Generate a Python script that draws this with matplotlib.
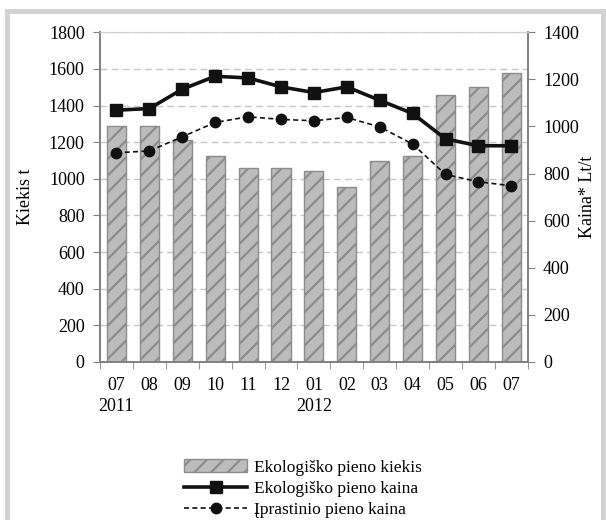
import numpy as np
import matplotlib
matplotlib.use('Agg')
import matplotlib.pyplot as plt
from matplotlib.patches import Rectangle

plt.rcParams['font.family'] = ['Liberation Serif', 'DejaVu Serif']
plt.rcParams['hatch.linewidth'] = 1.6

# Months July 2011 - July 2012
months = ['07\n2011', '08', '09', '10', '11', '12', '01\n2012', '02', '03', '04', '05', '06', '07']

# Organic milk quantity, t (left axis)
eko_kiekis = [1290, 1290, 1210, 1125, 1060, 1060, 1042, 955, 1098, 1125, 1455, 1502, 1580]

# Organic milk price, Lt/t (right axis)
eko_kaina = [1069, 1076, 1158, 1213, 1206, 1168, 1144, 1168, 1111, 1055, 947, 918, 918]

# Conventional milk price, Lt/t (right axis)
iprast_kaina = [888, 896, 956, 1017, 1041, 1030, 1024, 1038, 998, 925, 796, 765, 748]

fig = plt.figure(figsize=(6.06, 5.2), dpi=100)
ax = fig.add_axes([0.165, 0.304, 0.706, 0.634])
ax2 = ax.twinx()

x = np.arange(len(months))
bars = ax.bar(x, eko_kiekis, width=0.58, color='#bcbcbc', edgecolor='#8c8c8c',
              linewidth=1.0, hatch='//', label='Ekologiško pieno kiekis', zorder=2)

l1, = ax2.plot(x, eko_kaina, '-', color='#111111', lw=2.6, marker='s', markersize=8.5,
               label='Ekologiško pieno kaina', zorder=3)
l2, = ax2.plot(x, iprast_kaina, '--', color='#111111', lw=1.2, marker='o', markersize=7.5,
               dashes=(3, 2), label='Įprastinio pieno kaina', zorder=3)

ax.set_xlim(-0.5, len(months) - 0.5)
ax.set_ylim(0, 1800)
ax.set_yticks(np.arange(0, 1801, 200))
ax2.set_ylim(0, 1400)
ax2.set_yticks(np.arange(0, 1401, 200))

ax.set_xticks(x)
ax.set_xticklabels(months, fontsize=13, linespacing=1.3)
ax.set_xticks(np.arange(-0.5, len(months)), minor=True)
ax.tick_params(axis='x', which='major', length=0, pad=11)
ax.tick_params(axis='x', which='minor', length=5, color='#808080', direction='out')
ax.tick_params(axis='y', length=5, color='#808080', labelsize=13, pad=6)
ax2.tick_params(axis='y', length=5, color='#808080', labelsize=13, pad=6)

ax.yaxis.grid(True, linestyle=(0, (5, 3)), color='#c8c8c8', lw=1.0)
ax.set_axisbelow(True)

for a in (ax, ax2):
    for side in ('left', 'right', 'bottom'):
        a.spines[side].set_color('#808080')
        a.spines[side].set_linewidth(1.2)
    a.spines['top'].set_color('#d0d0d0')

ax.set_ylabel('Kiekis t', fontsize=13, labelpad=11)
ax2.set_ylabel('Kaina* Lt/t', fontsize=13, labelpad=0)

fig.legend(handles=[bars, l1, l2], loc='center', bbox_to_anchor=(0.5, 0.06),
           frameon=False, fontsize=12.5, handlelength=3.6, handletextpad=0.4,
           labelspacing=0.3, borderpad=0)

# light gray frame around the chart
fig.patches.append(Rectangle((7 / 606, -0.02), 596 / 606, 1 - 10.5 / 520 + 0.02,
                             transform=fig.transFigure, fill=False,
                             edgecolor='#d2d2d2', lw=3.6, zorder=0))

fig.savefig('out.png', dpi=100)
